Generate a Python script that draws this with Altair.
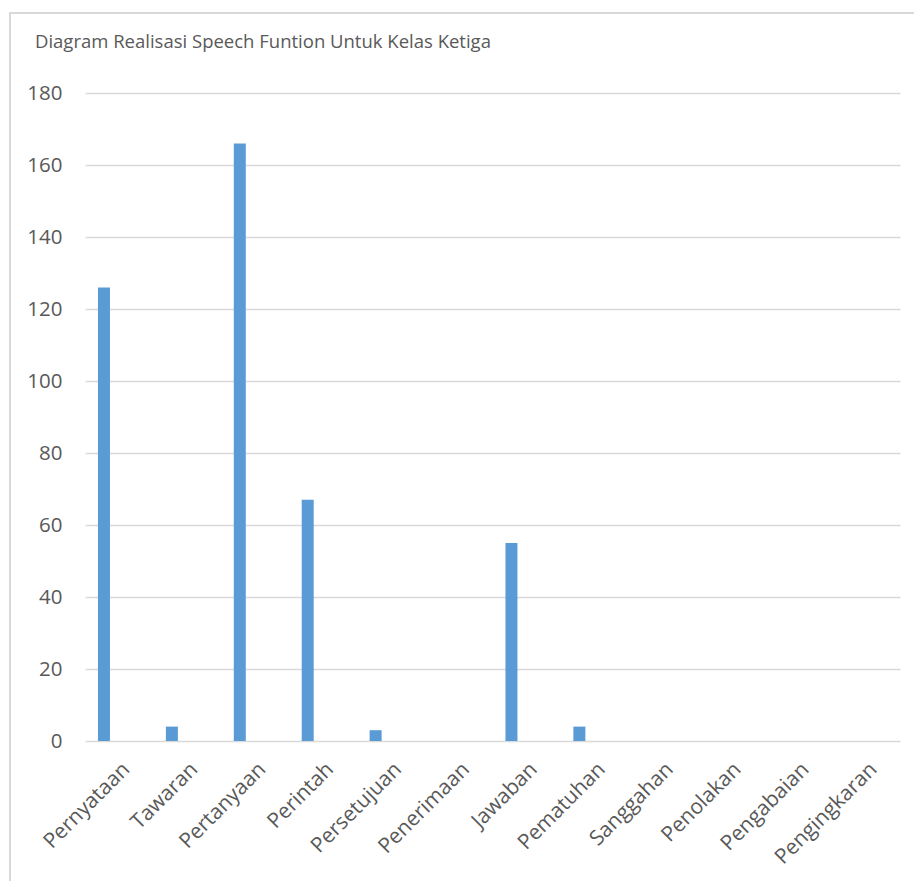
import altair as alt
import pandas as pd

# Speech function categories and their counts for the third class
categories = [
    "Pernyataan", "Tawaran", "Pertanyaan", "Perintah", "Persetujuan",
    "Penerimaan", "Jawaban", "Pematuhan", "Sanggahan", "Penolakan",
    "Pengabaian", "Pengingkaran",
]
counts = [126, 4, 166, 67, 3, 0, 55, 4, 0, 0, 0, 0]
y_ticks = [0, 20, 40, 60, 80, 100, 120, 140, 160, 180]

df = pd.DataFrame({"kategori": categories, "jumlah": counts})

FONT = "Open Sans"
TEXT = "#595959"
GRID = "#D9D9D9"
BAR = "#5B9BD5"

x_enc = alt.X(
    "kategori:N",
    sort=categories,
    scale=alt.Scale(paddingInner=0, paddingOuter=0),
    axis=alt.Axis(
        title=None, labelAngle=-45, domain=False, ticks=False, grid=False,
        labelPadding=17, labelFontSize=21, labelColor=TEXT, labelFont=FONT,
        labelOverlap=False,
    ),
)
y_enc = alt.Y(
    "jumlah:Q",
    scale=alt.Scale(domain=[0, 180], nice=False),
    axis=alt.Axis(
        title=None, values=y_ticks, domain=False, ticks=False,
        labelPadding=23, labelFontSize=20.5, labelColor=TEXT, labelFont=FONT,
        gridColor=GRID, gridWidth=1.5,
    ),
)

bars = alt.Chart(df).mark_bar(size=12, xOffset=-15, color=BAR).encode(
    x=x_enc, y=y_enc
)

# light outer frame around the whole chart
frame = alt.Chart(df).mark_rect(
    fill=None, stroke=GRID, strokeWidth=1.5
).encode(
    x=alt.value(-75), x2=alt.value(840),
    y=alt.value(-80), y2=alt.value(820),
)

chart = alt.layer(frame, bars).properties(
    width=815,
    height=648,
    autosize=alt.AutoSizeParams(type="none"),
    padding={"left": 85, "top": 93, "right": 14, "bottom": 140},
    title=alt.TitleParams(
        "Diagram Realisasi Speech Funtion Untuk Kelas Ketiga",
        anchor="start", frame="group", dx=-50, offset=-39,
        font=FONT, fontSize=18.5, fontWeight="normal", color=TEXT,
    ),
).configure(
    background="white",
    view=alt.ViewConfig(stroke=None),
)

chart.save("out.html", embed_options={"renderer": "svg", "actions": False})
